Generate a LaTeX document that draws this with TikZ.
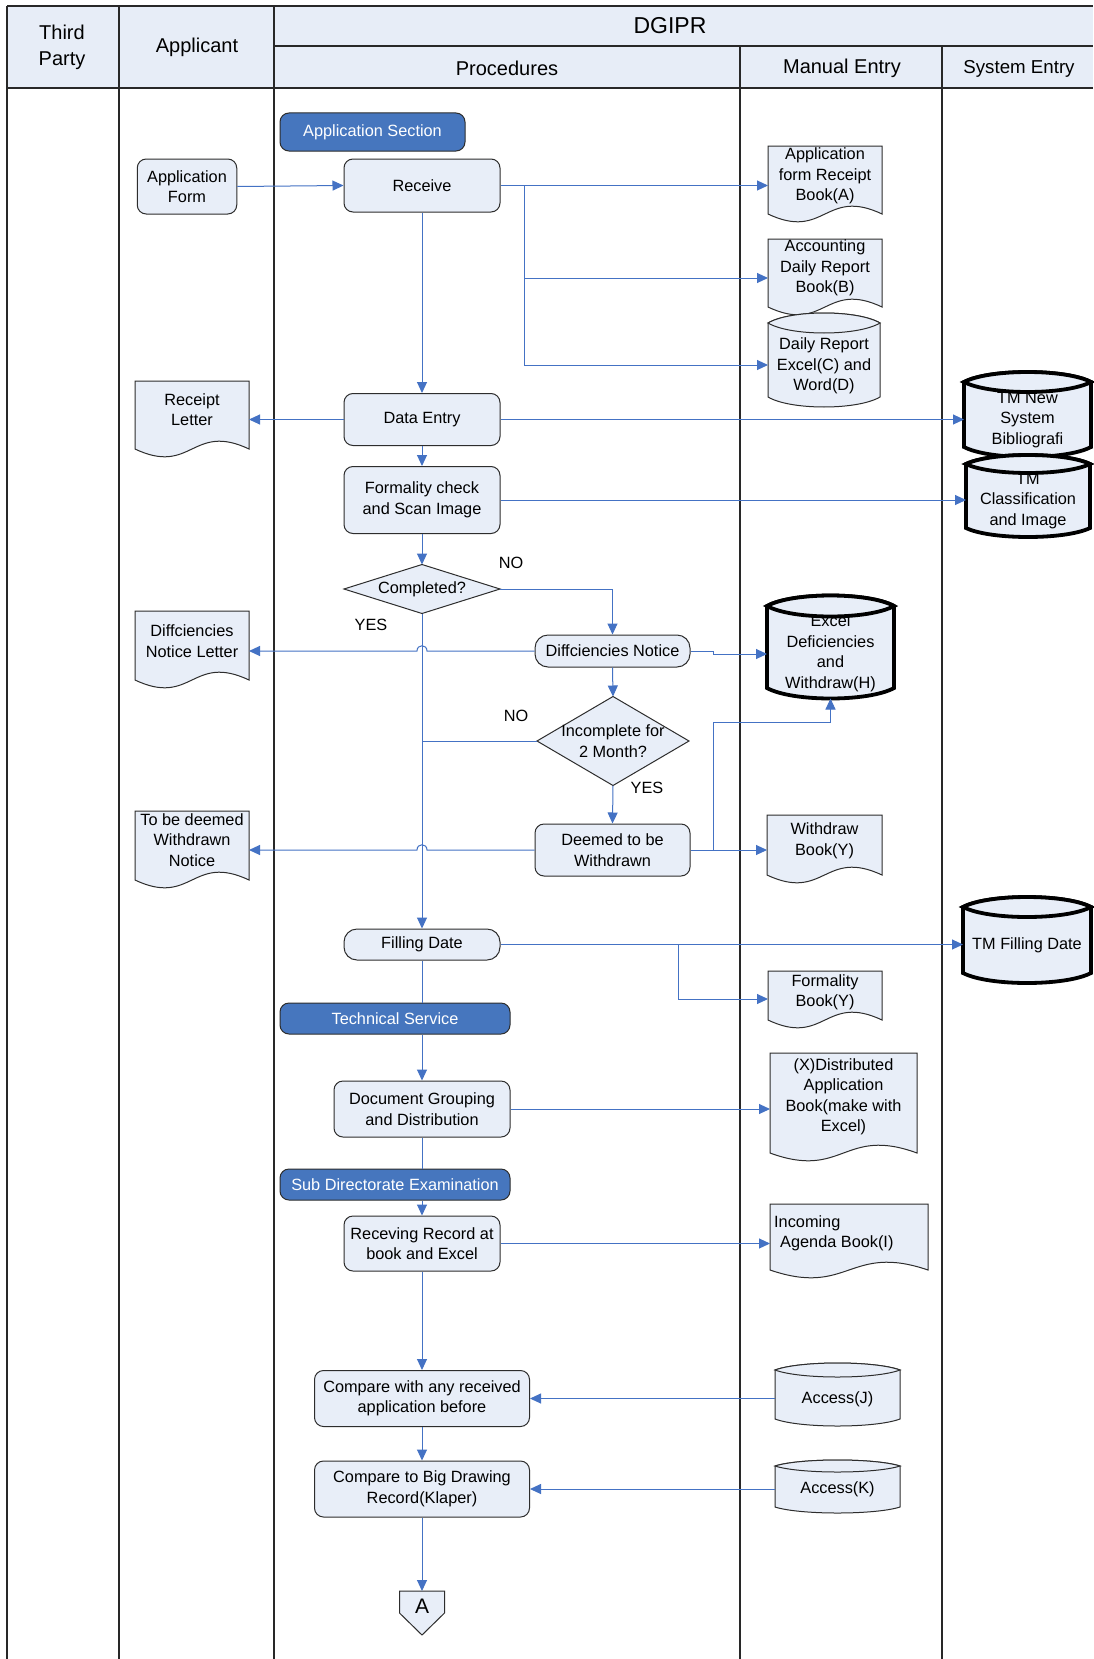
\documentclass[tikz,border=0pt]{standalone}
\usepackage{fontspec}
\setmainfont{Liberation Sans}
\usetikzlibrary{arrows.meta,calc}
\definecolor{linec}{RGB}{68,114,196}
\definecolor{boxfill}{RGB}{232,238,248}
\definecolor{hdrfill}{RGB}{231,237,247}
\definecolor{secfill}{RGB}{70,118,190}
\definecolor{bordc}{RGB}{45,45,45}
\definecolor{gridc}{RGB}{40,40,40}
\newcommand\bfs{\fontsize{16.3}{20.5}\selectfont}
\newcommand\hfs{\fontsize{20}{26.5}\selectfont}
\tikzset{
  geom/.style={rectangle,inner sep=0pt,outer sep=0pt,draw=none},
  btxt/.style={align=center,font=\bfs,inner sep=0pt},
  htxt/.style={align=center,font=\hfs,inner sep=0pt},
  shapeline/.style={draw=bordc,fill=boxfill,line width=1pt},
  thickline/.style={draw=black,fill=boxfill,line width=3.8pt},
  proc/.style={draw=bordc,fill=boxfill,line width=1pt,rounded corners=9pt,align=center,inner sep=0pt,font=\bfs},
  sect/.style={draw=bordc,fill=secfill,line width=1pt,rounded corners=9pt,align=center,inner sep=0pt,font=\bfs,text=white},
  grid/.style={draw=gridc,line width=1.3pt},
  flow/.style={draw=linec,line width=1pt,-{Triangle[length=11pt,width=10pt]}},
  plain/.style={draw=linec,line width=1pt},
}
% document shape: name, x1, y1, x2, yc, text y, text
\newcommand\docnode[7]{%
  \path[shapeline] (#2,#3) -- (#4,#3) -- (#4,#5) .. controls ({(#2+#4)/2},{#5-27}) and ({(#2+#4)/2},{#5+27}) .. (#2,#5) -- cycle;
  \node[geom,minimum width={(#4-#2)*1pt},minimum height={(#5-#3)*1pt}] (#1) at ({(#2+#4)/2},{(#3+#5)/2}) {};
  \node[btxt] (#1-t) at ({(#2+#4)/2},#6) {#7};}
% cylinder: name, x1, yt, x2, yb, ry, style, text y, text
\newcommand\cylnode[9]{%
  \path[#7] (#2,#3) -- (#2,#5) .. controls ({#2+0.2*(#4-#2)},{#5+1.333*#6}) and ({#4-0.2*(#4-#2)},{#5+1.333*#6}) .. (#4,#5) -- (#4,#3) .. controls ({#4-0.2*(#4-#2)},{#3-1.333*#6}) and ({#2+0.2*(#4-#2)},{#3-1.333*#6}) .. (#2,#3) -- cycle;
  \node[geom,minimum width={(#4-#2)*1pt},minimum height={(#5-#3+2*#6)*1pt}] (#1) at ({(#2+#4)/2},{(#3+#5)/2}) {};
  \node[btxt] (#1-t) at ({(#2+#4)/2},#8) {#9};
  \path[#7] (#2,#3) .. controls ({#2+0.2*(#4-#2)},{#3+1.333*#6}) and ({#4-0.2*(#4-#2)},{#3+1.333*#6}) .. (#4,#3) .. controls ({#4-0.2*(#4-#2)},{#3-1.333*#6}) and ({#2+0.2*(#4-#2)},{#3-1.333*#6}) .. (#2,#3) -- cycle;}
% diamond: name, cx, cy, w, h, text
\newcommand\diamnode[6]{%
  \node[geom,minimum width=#4pt,minimum height=#5pt] (#1) at (#2,#3) {};
  \path[shapeline] (#1.north) -- (#1.east) -- (#1.south) -- (#1.west) -- cycle;
  \node[btxt] (#1-t) at (#1) {#6};}
\begin{document}
\begin{tikzpicture}[x=1pt,y=-1pt]
\useasboundingbox (0,0) rectangle (1093,1659);
\fill[white] (0,0) rectangle (1093,1659);
% ---------- header ----------
\fill[hdrfill] (7,6) rectangle (1093,88);
\draw[grid] (7,6) -- (1093,6);
\draw[grid] (274,46) -- (1093,46);
\draw[grid] (7,88) -- (1093,88);
\draw[grid] (7,6) -- (7,1659);
\draw[grid] (119,6) -- (119,1659);
\draw[grid] (274,6) -- (274,1659);
\draw[grid] (740,46) -- (740,1659);
\draw[grid] (942,46) -- (942,1659);
\node[htxt] (h-third) at (62,47.5) {Third\\Party};
\node[htxt] (h-appl) at (197,47.5) {Applicant};
\node[htxt,font=\fontsize{23}{26}\selectfont] (h-dgipr) at (670,25.5) {DGIPR};
\node[htxt] (h-proc) at (507,68.5) {Procedures};
\node[htxt] (h-man) at (842,68.5) {Manual Entry};
\node[htxt,font=\fontsize{18.7}{22}\selectfont] (h-sys) at (1019,69) {System Entry};
% ---------- sections ----------
\node[sect,minimum width=185pt,minimum height=38pt] (appsec) at (372.5,132) {Application Section};
\node[sect,minimum width=230pt,minimum height=31pt] (techsvc) at (395,1018.5) {Technical Service};
\node[sect,minimum width=230pt,minimum height=31pt] (subdir) at (395,1184.5) {Sub Directorate Examination};
% ---------- process boxes ----------
\node[proc,minimum width=99.5pt,minimum height=55pt] (appform) at (187,186.5) {Application\\Form};
\node[proc,minimum width=156pt,minimum height=53pt] (rcv) at (422,185.5) {Receive};
\node[proc,minimum width=156pt,minimum height=52pt] (dentry) at (422,419.5) {Data Entry};
\node[proc,minimum width=156pt,minimum height=67pt] (fcheck) at (422,500) {Formality check\\and Scan Image};
\diamnode{comp}{422}{589}{156}{49}{Completed?}
\node[proc,rounded corners=13pt,minimum width=155pt,minimum height=32pt] (dnotice) at (612.5,651) {Diffciencies Notice};
\diamnode{incomp}{613}{741}{152}{89}{Incomplete for\\2 Month?}
\node[proc,minimum width=155pt,minimum height=52pt] (deemed) at (612.5,850) {Deemed to be\\Withdrawn};
\node[proc,rounded corners=13pt,minimum width=156pt,minimum height=31pt] (fdate) at (422,944.5) {Filling Date};
\node[proc,minimum width=176pt,minimum height=56pt] (docgrp) at (422,1109) {Document Grouping\\and Distribution};
\node[proc,minimum width=156pt,minimum height=55pt] (recv2) at (422,1243.5) {Receving Record at\\book and Excel};
\node[proc,minimum width=215pt,minimum height=56pt] (cmp1) at (422,1398.5) {Compare with any received\\application before};
\node[proc,minimum width=215pt,minimum height=56pt] (cmp2) at (422,1489) {Compare to Big Drawing\\Record(Klaper)};
% off-page connector
\path[shapeline] (399.5,1591) -- (444.5,1591) -- (444.5,1613) -- (422,1635) -- (399.5,1613) -- cycle;
\node[geom,minimum width=45pt,minimum height=44pt] (conA) at (422,1613) {};
\node[btxt,font=\fontsize{21}{24}\selectfont] (conA-t) at (422,1606) {A};
% ---------- documents ----------
\docnode{docA}{768}{146}{882}{214}{176}{Application\\form Receipt\\Book(A)}
\docnode{docB}{768}{239}{882}{307}{268}{Accounting\\Daily Report\\Book(B)}
\cylnode{cylCD}{768}{323}{880}{397}{10}{shapeline}{366}{Daily Report\\Excel(C) and\\Word(D)}
\docnode{rletter}{135}{381}{249}{449}{409.5}{Receipt\\Letter}
\docnode{dletter}{135}{611}{249}{680}{641}{Diffciencies\\Notice Letter}
\docnode{tbd}{135}{811}{249}{880}{840}{To be deemed\\Withdrawn\\Notice}
\docnode{wbook}{767}{815}{882}{875}{841}{Withdraw\\Book(Y)}
\docnode{fbook}{768}{971}{882}{1020}{992.5}{Formality\\Book(Y)}
\docnode{xdist}{770}{1053}{917}{1153}{1097}{(X)Distributed\\Application\\Book(make with\\Excel)}
\path[shapeline] (770,1204) -- (928,1204) -- (928,1270) .. controls (849,1243) and (849,1297) .. (770,1270) -- cycle;
\node[geom,minimum width=158pt,minimum height=66pt] (incoming) at (849,1237) {};
\node[btxt,align=left,anchor=west] (incoming-t) at (774,1233.5) {Incoming\\\hspace*{6pt}Agenda Book(I)};
% ---------- cylinders ----------
\cylnode{tmnew}{964}{382}{1091}{447}{10}{thickline}{420}{TM New\\System\\Bibliografi}
\cylnode{tmclass}{966}{464}{1090}{528}{9}{thickline}{501}{TM\\Classification\\and Image}
\cylnode{exH}{767}{606}{894}{688}{10.5}{thickline}{653.5}{Excel\\Deficiencies\\and\\Withdraw(H)}
\cylnode{tmfd}{963}{907}{1091}{973}{10}{thickline}{945}{TM Filling Date}
\cylnode{accJ}{775}{1370}{900}{1419}{7}{shapeline}{1399}{Access(J)}
\cylnode{accK}{775}{1466}{900}{1507}{6}{shapeline}{1489}{Access(K)}
% ---------- labels ----------
\node[btxt] (lno1) at (511,563) {NO};
\node[btxt] (lyes1) at (371,625) {YES};
\node[btxt] (lno2) at (516,716) {NO};
\node[btxt] (lyes2) at (647,788) {YES};
% ---------- connectors ----------
\coordinate (j1) at (524,185.5);
\coordinate (j2) at (524,278);
\coordinate (j3) at (524,365);
\draw[flow] (appform.east) -- (rcv.west);
\draw[plain] (rcv.east) -- (j1);
\draw[flow] (j1) -- (docA.west |- j1);
\draw[plain] (j1) -- (j3);
\draw[flow] (j2) -- (docB.west |- j2);
\draw[flow] (j3) -- (cylCD.west |- j3);
\draw[flow] (rcv.south) -- (dentry.north);
\draw[flow] (dentry.west) -- (rletter.east |- dentry.west);
\draw[flow] (dentry.east) -- (tmnew.west |- dentry.east);
\draw[flow] (dentry.south) -- (fcheck.north);
\draw[flow] (fcheck.east) -- (tmclass.west |- fcheck.east);
\draw[flow] (fcheck.south) -- (comp.north);
\draw[flow] (comp.east) -| (dnotice.north);
\draw[flow] (comp.south) -- (fdate.north);
\draw[flow] (dnotice.west) -- (dnotice.west -| 427,0) .. controls +(0,-7) and +(0,-7) .. ++(-10,0) -- (dletter.east |- dnotice.west);
\draw[flow] (dnotice.east) -- (dnotice.east -| 713,0) -- (713,654) -- (exH.west |- 0,654);
\draw[flow] (dnotice.south) -- (incomp.north);
\draw[plain] (incomp.west) -- (comp.south |- incomp.west);
\draw[flow] (incomp.south) -- (deemed.north);
\draw[flow] (deemed.west) -- (deemed.west -| 427,0) .. controls +(0,-7) and +(0,-7) .. ++(-10,0) -- (tbd.east |- deemed.west);
\draw[flow] (deemed.east) -- (wbook.west |- deemed.east);
\draw[flow] (deemed.east -| 713,0) -- (713,722) -| (exH.south);
\draw[flow] (fdate.east) -- (tmfd.west |- fdate.east);
\draw[flow] (fdate.east -| 678,0) -- (678,999) -- (fbook.west |- 0,999);
\draw[plain] (fdate.south) -- (fdate.south |- techsvc.north);
\draw[flow] (fdate.south |- techsvc.south) -- (docgrp.north);
\draw[flow] (docgrp.east) -- (xdist.west |- docgrp.east);
\draw[plain] (docgrp.south) -- (docgrp.south |- subdir.north);
\draw[flow] (docgrp.south |- subdir.south) -- (recv2.north);
\draw[flow] (recv2.east) -- (incoming.west |- recv2.east);
\draw[flow] (recv2.south) -- (cmp1.north);
\draw[flow] (accJ.west |- cmp1.east) -- (cmp1.east);
\draw[flow] (cmp1.south) -- (cmp2.north);
\draw[flow] (accK.west |- cmp2.east) -- (cmp2.east);
\draw[flow] (cmp2.south) -- (conA.north);
\end{tikzpicture}
\end{document}
